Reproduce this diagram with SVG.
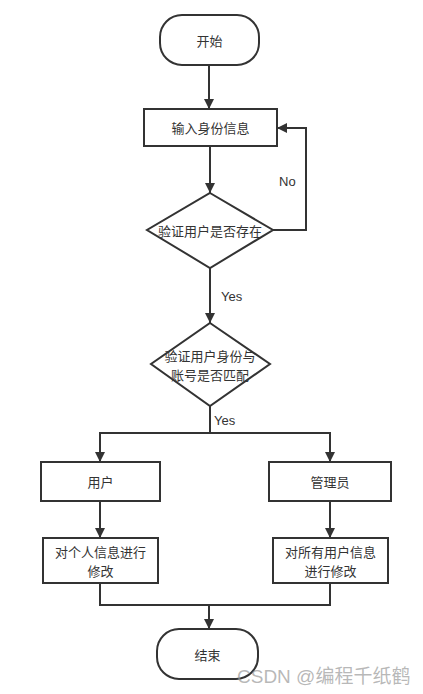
<svg xmlns="http://www.w3.org/2000/svg" width="423" height="694" viewBox="0 0 423 694">
<style>
.s{fill:#fff;stroke:#333;stroke-width:2}
.t{font-family:"Noto Sans CJK SC","Liberation Sans",sans-serif;font-size:13px;fill:#333;text-anchor:middle;dominant-baseline:central}
.l{font-family:"Liberation Sans","Noto Sans CJK SC",sans-serif;font-size:13px;fill:#333;dominant-baseline:central}
.c{fill:none;stroke:#333;stroke-width:2}
</style>
<defs>
<marker id="a" viewBox="0 0 10 10" refX="10" refY="5" markerWidth="10" markerHeight="10" markerUnits="userSpaceOnUse" orient="auto">
<path d="M0,0 L10,5 L0,10 Z" fill="#333"/>
</marker>
</defs>
<rect width="423" height="694" fill="#fff"/>
<g id="connectors">
<path class="c" d="M209,65 V109" marker-end="url(#a)"/>
<path class="c" d="M210,146 V193" marker-end="url(#a)"/>
<path class="c" d="M273,230 H306 V128 H277" marker-end="url(#a)"/>
<path class="c" d="M210,268 V323" marker-end="url(#a)"/>
<path class="c" d="M210,406 V433"/>
<path class="c" d="M100,462 V433 H330 V462"/>
<path class="c" d="M100,433 V462" marker-end="url(#a)"/>
<path class="c" d="M330,433 V462" marker-end="url(#a)"/>
<path class="c" d="M100,501 V538" marker-end="url(#a)"/>
<path class="c" d="M330,501 V538" marker-end="url(#a)"/>
<path class="c" d="M100,583 V605 H330 V583"/>
<path class="c" d="M209,605 V629" marker-end="url(#a)"/>
<text class="l" x="279" y="181">No</text>
<text class="l" x="221" y="296">Yes</text>
<text class="l" x="214" y="420">Yes</text>
</g>
<g id="start"><rect class="s" x="160" y="15" width="99" height="50" rx="22"/><text class="t" x="209.5" y="40">开始</text></g>
<g id="input"><rect class="s" x="144" y="109" width="133" height="37"/><text class="t" x="210.5" y="127.5">输入身份信息</text></g>
<g id="check1"><path class="s" d="M210,193 L273,230 L210,268 L147,230 Z"/><text class="t" x="210" y="230">验证用户是否存在</text></g>
<g id="check2"><path class="s" d="M210,323 L270,364 L210,406 L151,364 Z"/><text class="t" x="210" y="355">验证用户身份与</text><text class="t" x="210" y="374">账号是否匹配</text></g>
<g id="user"><rect class="s" x="41" y="462" width="119" height="39"/><text class="t" x="100.5" y="481.5">用户</text></g>
<g id="admin"><rect class="s" x="269" y="462" width="122" height="39"/><text class="t" x="330" y="481.5">管理员</text></g>
<g id="userEdit"><rect class="s" x="43" y="538" width="115" height="45"/><text class="t" x="100.5" y="551">对个人信息进行</text><text class="t" x="100.5" y="570">修改</text></g>
<g id="adminEdit"><rect class="s" x="273" y="538" width="115" height="45"/><text class="t" x="330.5" y="551">对所有用户信息</text><text class="t" x="330.5" y="570">进行修改</text></g>
<g id="end"><rect class="s" x="157" y="629" width="101" height="50" rx="22"/><text class="t" x="207.5" y="654">结束</text></g>
<text x="237" y="676" font-family="'Liberation Sans','Noto Sans CJK SC',sans-serif" font-size="19" fill="#999" fill-opacity="0.7" dominant-baseline="central">CSDN @编程千纸鹤</text>
</svg>
